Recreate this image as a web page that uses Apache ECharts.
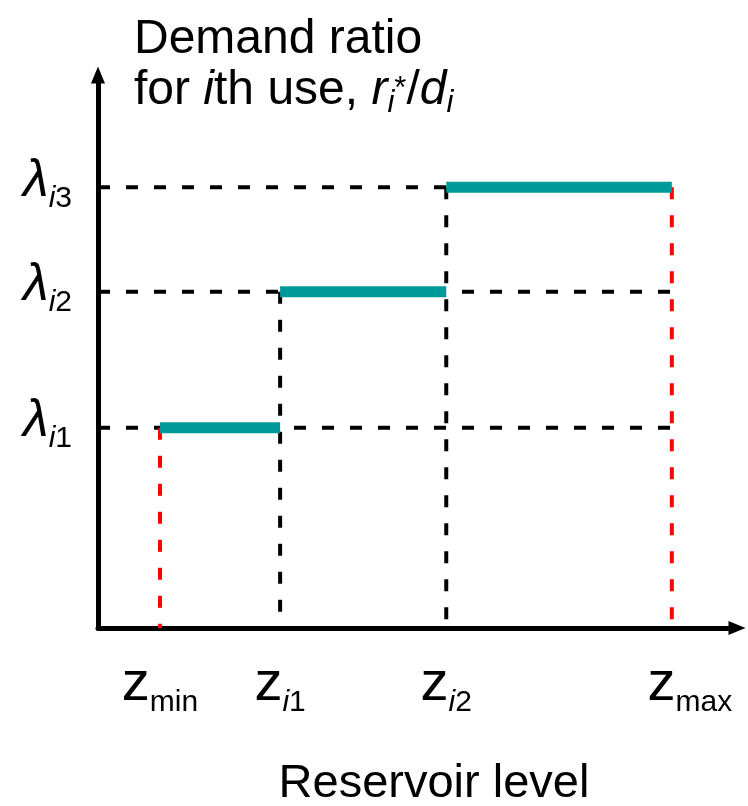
<!DOCTYPE html>
<html>
<head>
<meta charset="utf-8">
<script src="https://cdn.jsdelivr.net/npm/echarts@6/dist/echarts.min.js"></script>
<style>
html,body{margin:0;padding:0;background:#fff;}
#c{width:748px;height:806px;}
</style>
</head>
<body>
<div id="c"></div>
<script>
// Reservoir levels (x positions of thresholds)
const zNames = ['min', 'i1', 'i2', 'max'];
const zValues = [0.97, 2.85, 5.45, 8.98];
// Demand ratio levels
const lambdaNames = ['i1', 'i2', 'i3'];
const lambdaValues = [3.62, 6.08, 7.97];
// Horizontal guide extents (end z index for each lambda)
const hGuideEnd = [3, 3, 2];
// Vertical guide top (lambda index for each z) and colours
const vGuideTop = [0, 1, 2, 2];
const vGuideColor = ['#ff0000', '#000000', '#000000', '#ff0000'];

const FONT = 'Liberation Sans, Arial, sans-serif';
const ARROW = 'path://M7,0 L14,17 L0,17 Z';

function nearestIndex(arr, v) {
  let best = 0, d = Infinity;
  arr.forEach((a, i) => { if (Math.abs(a - v) < d) { d = Math.abs(a - v); best = i; } });
  return best;
}
function subRich(name) {
  if (name[0] === 'i') return '{si|i}{sub|' + name.slice(1) + '}';
  return '{sub|' + name + '}';
}

const series = [];
lambdaValues.forEach((l, k) => {
  series.push({
    type: 'line', silent: true, symbol: 'none', z: 2,
    data: [[0, l], [zValues[hGuideEnd[k]], l]],
    lineStyle: { color: '#000', width: 4, type: [12, 16], cap: 'butt' }
  });
});
zValues.forEach((z, k) => {
  series.push({
    type: 'line', silent: true, symbol: 'none', z: 2,
    data: [[z, lambdaValues[vGuideTop[k]]], [z, 0]],
    lineStyle: { color: vGuideColor[k], width: 4, type: [12, 16], cap: 'butt' }
  });
});
lambdaValues.forEach((l, k) => {
  series.push({
    type: 'line', silent: true, symbol: 'none', z: 5,
    data: [[zValues[k], l], [zValues[k + 1], l]],
    lineStyle: { color: '#009999', width: 11, cap: 'butt' }
  });
});

const base = { fontFamily: FONT, color: '#000', fontWeight: 'normal' };

const chart = echarts.init(document.getElementById('c'), null, { renderer: 'canvas' });
chart.setOption({
  animation: false,
  backgroundColor: '#fff',
  title: {
    left: 129, top: 12,
    text: '{t|Demand ratio}\n{t|for }{ti|i}{t|th use, }{ti|r}{sb|i}{sp|*}{t|/}{ti|d}{sb|i}',
    textStyle: {
      fontWeight: 'normal',
      rich: {
        t: Object.assign({}, base, { fontSize: 48, lineHeight: 51, verticalAlign: 'bottom', padding: [0, 0, 4, 0] }),
        ti: Object.assign({}, base, { fontSize: 48, fontStyle: 'italic', lineHeight: 51, verticalAlign: 'bottom', padding: [0, 0, 4, 0] }),
        sb: Object.assign({}, base, { fontSize: 31, fontStyle: 'italic', lineHeight: 30, verticalAlign: 'bottom' }),
        sp: Object.assign({}, base, { fontSize: 31, lineHeight: 30, verticalAlign: 'top', padding: [6, 0, 0, 0] })
      }
    }
  },
  grid: { left: 98, right: 11, top: 75, bottom: 178, containLabel: false, outerBoundsMode: 'none' },
  xAxis: {
    type: 'value', min: 0, max: 10,
    splitLine: { show: false },
    axisTick: { show: false },
    axisLine: {
      show: true, onZero: false,
      symbol: ['none', ARROW], symbolSize: [17, 17],
      lineStyle: { color: '#000', width: 5 }
    },
    axisLabel: {
      customValues: zValues,
      margin: 34,
      formatter: function (v) {
        const i = nearestIndex(zValues, v);
        const pre = zNames[i] === 'max' ? '{gap|}' : '';
        return pre + '{z|z}' + subRich(zNames[i]);
      },
      rich: {
        gap: { width: 36 },
        z: Object.assign({}, base, { fontSize: 56, lineHeight: 56, verticalAlign: 'bottom', padding: [0, 0, 5, 0] }),
        si: Object.assign({}, base, { fontSize: 30, fontStyle: 'italic', lineHeight: 30, verticalAlign: 'bottom' }),
        sub: Object.assign({}, base, { fontSize: 30, lineHeight: 30, verticalAlign: 'bottom' })
      }
    },
    name: 'Reservoir level',
    nameLocation: 'middle',
    nameGap: 133,
    nameTextStyle: { fontFamily: FONT, fontSize: 47, color: '#000', padding: [0, 0, 0, 33] }
  },
  yAxis: {
    type: 'value', min: 0, max: 10,
    splitLine: { show: false },
    axisTick: { show: false },
    axisLine: {
      show: true, onZero: false,
      symbol: ['none', ARROW], symbolSize: [17, 17],
      lineStyle: { color: '#000', width: 5 }
    },
    axisLabel: {
      customValues: lambdaValues,
      margin: 26,
      formatter: function (v) {
        const i = nearestIndex(lambdaValues, v);
        return '{l|λ}' + subRich(lambdaNames[i]);
      },
      rich: {
        l: Object.assign({}, base, { fontSize: 52, fontStyle: 'italic', lineHeight: 52, verticalAlign: 'bottom', padding: [0, 0, 6, 0] }),
        si: Object.assign({}, base, { fontSize: 30, fontStyle: 'italic', lineHeight: 30, verticalAlign: 'bottom' }),
        sub: Object.assign({}, base, { fontSize: 30, lineHeight: 30, verticalAlign: 'bottom' })
      }
    }
  },
  series: series
});
</script>
</body>
</html>
